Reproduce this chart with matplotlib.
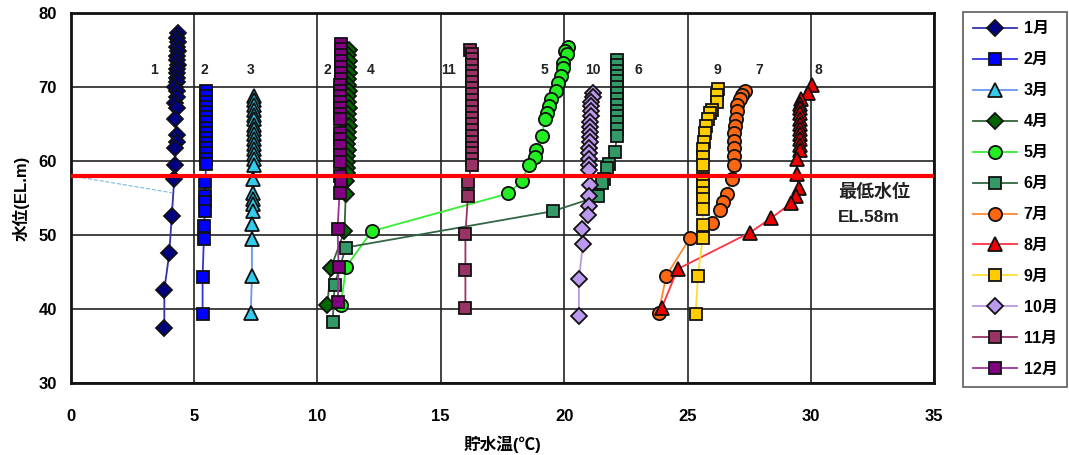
import numpy as np
import matplotlib
matplotlib.use('Agg')
import matplotlib.pyplot as plt

plt.rcParams['font.family'] = ['Liberation Sans', 'Noto Sans CJK JP']
plt.rcParams['font.weight'] = 'bold'

# data (temperature [deg C], water level [EL.m])
t_jan = [4.35, 4.3, 4.35, 4.3, 4.35, 4.3, 4.3, 4.35, 4.3, 4.3, 4.3, 4.3, 4.25, 4.3, 4.3, 4.25, 4.3, 4.25, 4.3, 4.3, 4.25, 4.25, 4.2, 4.1, 4.0, 3.8, 3.8]
h_jan = [77.2, 76.6, 76.0, 75.4, 74.8, 74.2, 73.6, 73.0, 72.4, 71.8, 71.2, 70.6, 70.0, 69.4, 68.6, 67.8, 67.2, 65.6, 63.5, 62.6, 61.8, 59.5, 57.5, 52.5, 47.5, 42.6, 37.5]

t_feb = [5.5, 5.5, 5.5, 5.5, 5.5, 5.5, 5.5, 5.5, 5.5, 5.5, 5.5, 5.5, 5.5, 5.5, 5.5, 5.45, 5.45, 5.45, 5.45, 5.4, 5.4, 5.35, 5.35]
h_feb = [69.4, 68.7, 68.0, 67.3, 66.6, 65.9, 65.2, 64.5, 63.8, 63.1, 62.4, 61.7, 61.0, 60.3, 59.6, 57.1, 55.2, 54.4, 53.2, 51.2, 49.4, 44.3, 39.3]

t_mar = [7.45, 7.45, 7.45, 7.45, 7.45, 7.45, 7.45, 7.45, 7.45, 7.45, 7.45, 7.45, 7.45, 7.45, 7.45, 7.4, 7.4, 7.4, 7.4, 7.4, 7.35, 7.35, 7.35, 7.3]
h_mar = [68.8, 68.2, 67.5, 66.9, 66.2, 65.6, 64.9, 64.3, 63.6, 63.0, 62.3, 61.6, 60.9, 60.2, 59.5, 57.6, 55.6, 54.9, 54.2, 53.3, 51.5, 49.4, 44.4, 39.4]

t_apr = [11.3, 11.25, 11.3, 11.25, 11.3, 11.25, 11.25, 11.3, 11.25, 11.25, 11.3, 11.25, 11.25, 11.3, 11.25, 11.25, 11.2, 11.25, 11.2, 11.2, 11.2, 11.2, 11.15, 11.15, 11.1, 10.55, 10.4]
h_apr = [75.0, 74.3, 73.5, 72.7, 71.9, 71.1, 70.3, 69.5, 68.7, 67.9, 67.1, 66.3, 65.5, 64.7, 63.9, 63.1, 62.3, 61.5, 60.7, 59.9, 59.1, 58.3, 57.3, 55.5, 50.5, 45.6, 40.5]

t_may = [20.16, 20.05, 20.1, 19.97, 19.95, 19.86, 19.75, 19.66, 19.45, 19.4, 19.3, 19.22, 19.1, 18.88, 18.8, 18.56, 18.29, 17.74, 12.2, 11.17, 10.95]
h_may = [75.4, 74.9, 74.4, 73.2, 72.6, 71.4, 70.5, 69.4, 68.3, 67.4, 66.5, 65.6, 63.4, 61.5, 60.5, 59.4, 57.3, 55.6, 50.5, 45.7, 40.6]

t_jun = [22.15, 22.15, 22.15, 22.15, 22.15, 22.15, 22.15, 22.15, 22.15, 22.15, 22.15, 22.15, 22.15, 22.15, 22.05, 21.8, 21.75, 21.6, 21.55, 21.37, 19.53, 11.15, 10.7, 10.62]
h_jun = [73.6, 72.9, 72.2, 71.5, 70.8, 70.0, 69.2, 68.4, 67.6, 66.8, 66.0, 65.2, 64.3, 63.4, 61.2, 59.6, 59.0, 57.6, 57.0, 55.2, 53.2, 48.3, 43.3, 38.3]

t_jul = [27.32, 27.2, 27.12, 27.0, 26.99, 26.95, 26.92, 26.9, 26.9, 26.9, 26.9, 26.9, 26.79, 26.58, 26.42, 26.3, 25.98, 25.1, 24.14, 23.83]
h_jul = [69.4, 68.9, 68.3, 67.6, 66.7, 65.6, 64.7, 63.8, 62.7, 61.8, 60.6, 59.5, 57.5, 55.5, 54.4, 53.4, 51.6, 49.6, 44.5, 39.5]

t_aug = [30.05, 29.88, 29.6, 29.55, 29.55, 29.55, 29.55, 29.55, 29.55, 29.55, 29.55, 29.55, 29.55, 29.44, 29.44, 29.5, 29.38, 29.2, 28.4, 27.52, 24.6, 23.96]
h_aug = [70.3, 69.2, 68.3, 67.7, 67.1, 66.4, 65.7, 65.0, 64.3, 63.6, 62.9, 62.2, 61.5, 60.2, 58.2, 56.4, 55.3, 54.3, 52.3, 50.3, 45.4, 40.2]

t_sep = [26.25, 26.2, 26.2, 26.0, 25.9, 25.82, 25.75, 25.7, 25.65, 25.62, 25.62, 25.62, 25.62, 25.62, 25.62, 25.62, 25.62, 25.62, 25.62, 25.42, 25.33]
h_sep = [69.7, 68.9, 68.0, 66.9, 66.4, 65.6, 64.7, 63.8, 62.6, 61.6, 60.5, 59.4, 57.5, 56.6, 55.7, 54.8, 53.5, 51.4, 49.6, 44.5, 39.3]

t_oct = [21.15, 21.15, 21.1, 21.1, 21.1, 21.1, 21.05, 21.05, 21.05, 21.05, 21.05, 21.0, 21.0, 21.0, 21.0, 21.0, 21.05, 21.0, 21.0, 20.97, 20.74, 20.76, 20.6, 20.6]
h_oct = [69.2, 68.6, 68.0, 67.4, 66.7, 66.0, 65.3, 64.6, 63.9, 63.2, 62.5, 61.8, 61.0, 60.2, 59.5, 58.8, 56.8, 55.2, 53.9, 52.7, 50.8, 48.8, 44.0, 39.1]

t_nov = [16.2, 16.25, 16.25, 16.25, 16.25, 16.25, 16.25, 16.25, 16.25, 16.25, 16.25, 16.25, 16.25, 16.25, 16.25, 16.25, 16.25, 16.25, 16.25, 16.25, 16.25, 16.1, 16.1, 16.0, 16.0, 16.0]
h_nov = [75.0, 74.4, 73.7, 73.0, 72.2, 71.4, 70.6, 69.8, 69.0, 68.2, 67.4, 66.6, 65.8, 65.0, 64.2, 63.4, 62.6, 61.8, 61.0, 60.2, 59.4, 57.1, 55.2, 50.1, 45.3, 40.2]

t_dec = [10.95, 10.95, 10.95, 10.95, 10.95, 10.95, 10.95, 10.9, 10.9, 10.9, 10.9, 10.9, 10.9, 10.9, 10.9, 10.9, 10.9, 10.9, 10.9, 10.9, 10.95, 10.9, 10.82, 10.86, 10.83]
h_dec = [75.8, 75.1, 74.3, 73.5, 72.7, 71.9, 71.1, 70.3, 69.5, 68.7, 67.9, 67.1, 66.3, 65.6, 63.8, 63.0, 62.0, 60.8, 59.8, 57.9, 57.3, 55.7, 50.8, 45.7, 41.0]

labels = ['1月', '2月', '3月', '4月', '5月', '6月', '7月', '8月', '9月', '10月', '11月', '12月']
temps = [t_jan, t_feb, t_mar, t_apr, t_may, t_jun, t_jul, t_aug, t_sep, t_oct, t_nov, t_dec]
levels = [h_jan, h_feb, h_mar, h_apr, h_may, h_jun, h_jul, h_aug, h_sep, h_oct, h_nov, h_dec]

# month numbers written above the profiles
tag_text = ['1', '2', '3', '2', '4', '11', '5', '10', '6', '9', '7', '8']
tag_x = [3.4, 5.4, 7.3, 10.4, 12.15, 15.3, 19.2, 21.15, 23.0, 26.2, 27.9, 30.3]
tag_y = 72.3

min_level = 58.0

# styles
markers = ['D', 's', '^', 'D', 'o', 's', 'o', '^', 's', 'D', 's', 's']
faces = ['#000080', '#0000FF', '#33CCEE', '#006600', '#22EE22', '#339966',
         '#FF6611', '#EE0000', '#FFCC00', '#BB99EE', '#993366', '#800080']
lines = ['#3333AA', '#3333DD', '#6699EE', '#336633', '#33EE33', '#336644',
         '#FF8833', '#FF3344', '#FFDD33', '#BB99DD', '#993366', '#993399']
sizes = [8, 9, 9.5, 8, 9.5, 9, 9.5, 9.5, 9, 8, 9, 8]

fig = plt.figure(figsize=(10.69, 4.55), dpi=100)
ax = fig.add_axes([0.066, 0.158, 0.808, 0.814])

for i in range(12):
    ax.plot(temps[i], levels[i], color=lines[i], lw=1.3, marker=markers[i],
            markersize=sizes[i], markerfacecolor=faces[i],
            markeredgecolor='#111111', markeredgewidth=1.3, label=labels[i])

# faint line at the left (as in the source)
ax.plot([0.0, 4.1], [58.0, 55.7], color='#77BBDD', lw=0.8, ls='--')

ax.axhline(min_level, color='#FF0000', lw=3, zorder=5)

for s, x in zip(tag_text, tag_x):
    ax.text(x, tag_y, s, ha='center', va='center', fontsize=10, fontweight='bold', color='#222222')

ax.text(31.1, 55.7, '最低水位', ha='left', va='center', fontsize=13, fontweight='bold', color='#222222')
ax.text(31.1, 52.4, 'EL.58m', ha='left', va='center', fontsize=12.5, color='#222222')

ax.set_xlim(0, 35)
ax.set_ylim(30, 80)
ax.set_xticks(np.arange(0, 36, 5))
ax.set_yticks(np.arange(30, 81, 10))
ax.grid(True, color='#222222', lw=1.2)
ax.set_axisbelow(True)
ax.tick_params(length=0, labelsize=12)
ax.tick_params(axis='x', pad=19)
ax.tick_params(axis='y', pad=10)
for sp in ax.spines.values():
    sp.set_linewidth(2)
    sp.set_color('#111111')

ax.set_xlabel('貯水温(℃)', fontsize=12, fontweight='bold', labelpad=8)
ax.set_ylabel('水位(EL.m)', fontsize=12, fontweight='bold', labelpad=6)

leg = fig.legend(loc='upper left', bbox_to_anchor=(963 / 1069, 1 - 11.7 / 455),
                 fontsize=11.5, frameon=True, fancybox=False, edgecolor='#333333',
                 handlelength=2.8, handletextpad=0.4, labelspacing=1.0,
                 borderpad=0.6, borderaxespad=0)
leg.get_frame().set_linewidth(1.2)

plt.savefig('out.png', dpi=100)
